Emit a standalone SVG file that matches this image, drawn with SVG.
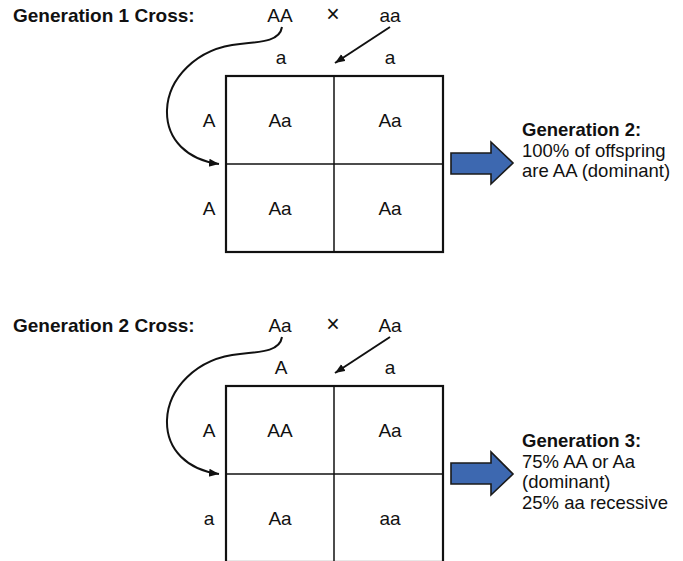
<svg xmlns="http://www.w3.org/2000/svg" width="683" height="561" viewBox="0 0 683 561">
<style>
text{font-family:"Liberation Sans",Arial,Helvetica,sans-serif;font-size:19px;fill:#111}
.b{font-weight:bold}
.c{text-anchor:middle}
.r{font-size:18.5px}
.x{font-size:23px}
.outer{fill:none;stroke:#111;stroke-width:2.2}
.inner{stroke:#111;stroke-width:1.5}
.con{fill:none;stroke:#111;stroke-width:2}
.big{fill:#3d68b0;stroke:#1a1a1a;stroke-width:1.6;stroke-linejoin:miter}
</style>
<defs>
<marker id="ah" markerUnits="userSpaceOnUse" markerWidth="12" markerHeight="10" refX="10" refY="4" orient="auto">
<path d="M0,0 L10,4 L0,8 Z" fill="#111"/>
</marker>
</defs>
<rect width="683" height="561" fill="#fff"/>

<g id="gen1">
<g id="gen1-title"><text class="b" x="13" y="22">Generation 1 Cross:</text></g>
<g id="gen1-parents">
<text class="c" x="280" y="22">AA</text>
<text class="c x" x="333" y="22">×</text>
<text class="c" x="390" y="22">aa</text>
</g>
<g id="gen1-cols">
<text class="c" x="281" y="64">a</text>
<text class="c" x="390" y="64">a</text>
</g>
<g id="gen1-rows">
<text class="c" x="209" y="127">A</text>
<text class="c" x="209" y="215">A</text>
</g>
<g id="gen1-grid">
<rect class="outer" x="226" y="76" width="217" height="176"/>
<line class="inner" x1="334" y1="76" x2="334" y2="252"/>
<line class="inner" x1="226" y1="164" x2="443" y2="164"/>
<text class="c" x="280" y="127">Aa</text>
<text class="c" x="390" y="127">Aa</text>
<text class="c" x="280" y="215">Aa</text>
<text class="c" x="390" y="215">Aa</text>
</g>
<g id="gen1-result">
<polygon class="big" points="451,153 491,153 491,142 513,163 491,184 491,174 451,174"/>
<text class="b r" x="522" y="136">Generation 2:</text>
<text class="r" x="522" y="156.7">100% of offspring</text>
<text class="r" x="522" y="177.4">are AA (dominant)</text>
</g>
</g>

<g id="gen2">
<g id="gen2-title"><text class="b" x="13" y="332">Generation 2 Cross:</text></g>
<g id="gen2-parents">
<text class="c" x="280" y="332">Aa</text>
<text class="c x" x="333" y="332">×</text>
<text class="c" x="390" y="332">Aa</text>
</g>
<g id="gen2-cols">
<text class="c" x="281" y="374">A</text>
<text class="c" x="390" y="374">a</text>
</g>
<g id="gen2-rows">
<text class="c" x="209" y="437">A</text>
<text class="c" x="209" y="525">a</text>
</g>
<g id="gen2-grid">
<rect class="outer" x="226" y="386" width="217" height="176"/>
<line class="inner" x1="334" y1="386" x2="334" y2="562"/>
<line class="inner" x1="226" y1="474" x2="443" y2="474"/>
<text class="c" x="280" y="437">AA</text>
<text class="c" x="390" y="437">Aa</text>
<text class="c" x="280" y="525">Aa</text>
<text class="c" x="390" y="525">aa</text>
</g>
<g id="gen2-result">
<polygon class="big" points="451,463 491,463 491,452 513,474 491,495 491,484 451,484"/>
<text class="b r" x="522" y="447">Generation 3:</text>
<text class="r" x="522" y="467.7">75% AA or Aa</text>
<text class="r" x="522" y="488.4">(dominant)</text>
<text class="r" x="522" y="509.1">25% aa recessive</text>
</g>
</g>

<g id="connectors">
<path class="con" marker-end="url(#ah)" d="M282,27 C280,40 265,42 240,44 C195,48 168,80 167,110 C166,140 188,160 219,164"/>
<line class="con" marker-end="url(#ah)" x1="390" y1="27" x2="335" y2="63"/>
<path class="con" marker-end="url(#ah)" d="M282,337 C280,350 265,352 240,354 C195,358 168,390 167,420 C166,450 188,470 219,474"/>
<line class="con" marker-end="url(#ah)" x1="390" y1="337" x2="335" y2="373"/>
</g>
</svg>
